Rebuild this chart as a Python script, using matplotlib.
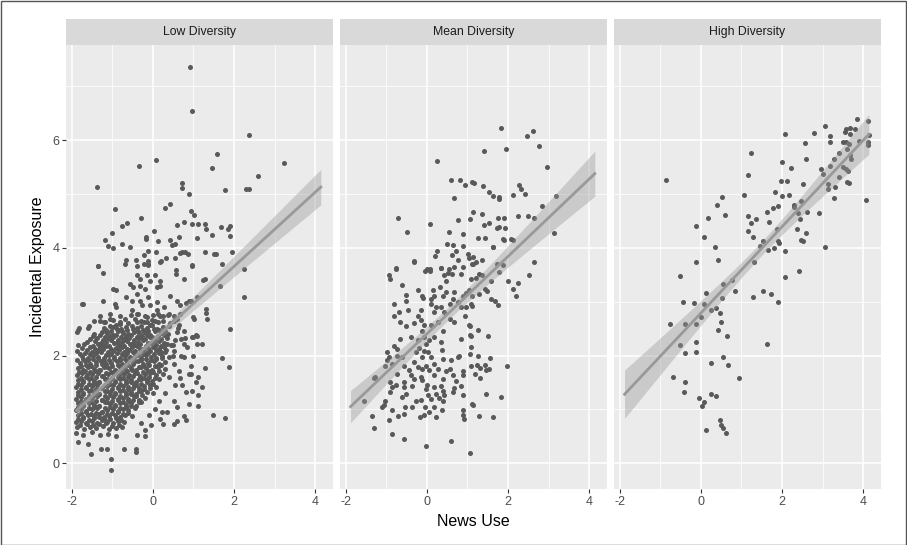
import numpy as np
import matplotlib
matplotlib.use("Agg")
import matplotlib.pyplot as plt
from matplotlib.patches import Rectangle

plt.rcParams['font.family'] = ['Liberation Sans', 'DejaVu Sans']
plt.rcParams['axes.unicode_minus'] = False

panel_titles = ["Low Diversity", "Mean Diversity", "High Diversity"]
x_ticks = [-2, 0, 2, 4]
y_ticks = [0, 2, 4, 6]

# fitted lines and confidence bands
fit_x_range = [-1.88, 4.14]
fit_y_at_min = [0.98, 1.05, 1.28]
fit_y_at_max = [5.13, 5.38, 6.11]
band_half_at_min = [0.11, 0.30, 0.45]
band_half_at_max = [0.33, 0.42, 0.37]
band_half_narrowest = [0.07, 0.12, 0.13]

# ---------------- Low Diversity ----------------
low_x = [
    # upper / right outliers
    0.91, 0.96, 0.07, -0.34, -1.37, 0.73, 0.73, 0.90, 0.31, 0.43, -0.93, -0.29, 0.95, 1.02, -0.64, -0.75, 0.60, 0.78, 0.97, 1.12,
    -1.0, 0.02, -0.17, -0.16, 0.64, 1.08, -1.17, -0.76, -1.11, -0.99, -0.57, 0.13, 0.43, 0.46, 0.55, -0.11, 0.07, 0.66, 0.73, 0.80,
    0.86, 0.55, 0.32, -0.21, -0.13, -0.11, -0.42, -0.67, 0.20, 0.97, -1.34,
    2.36, 1.59, 3.24, 1.47, 2.58, 1.79, 2.29, 2.37, 1.28, 1.30, 1.46, 1.67, 1.85, 1.90, 1.89, 1.28, 1.51, 1.56, 1.94, 1.71, 2.24,
    1.24, 1.29, 1.66, 2.24, 0.95, 1.30, 1.30, 1.34, 0.99, 1.89, 0.99, 1.06, 1.10, 1.22, 0.99, 1.71, 1.88, 1.29, 0.95, 0.95, 1.12,
    1.06, 1.20, 1.12, 1.12, 1.49, 1.79,
    -1.34, -1.23, -0.69, -0.40, -0.23, -0.11, 0.18, 0.56, 0.56, 0.78, 0.97, -0.40, -0.32, -0.15, -0.07, 0.06, 0.18, -0.56, -0.48,
    -0.32, -0.19, 0.10, 0.18, -0.98, -0.90, 0.43, 0.60, 0.68, 0.81, 0.89, 1.10, -1.75, -1.23, -0.94, -0.91, -0.65, -0.52, -0.40,
    -0.32, -0.11, -0.27, -0.07, 0.10, 0.10, 0.27, 0.39, 0.18, -1.31, -1.19, -1.06, -0.98, -0.81, -0.69, -0.52, -0.40, -0.40, -0.19,
    -0.23, -0.07, 0.06, 0.51, 0.64, 0.76, 1.01, 0.97, 1.10, -1.85, -1.85, -1.59, -1.72,
    # dense core, read row by row
    -1.30, -1.06, -0.81, -0.55, -0.36, -0.15, 0.00, 0.12, 0.25, 0.38, 0.51, 0.68,
    -1.45, -1.20, -0.98, -0.80, -0.62, -0.45, -0.30, -0.15, -0.02, 0.12, 0.26, 0.42, 0.60,
    -1.83, -1.58, -1.20, -1.05, -0.92, -0.78, -0.65, -0.52, -0.40, -0.28, -0.15, -0.02, 0.10, 0.24, 0.40, 0.62,
    -1.86, -1.45, -1.25, -1.12, -0.99, -0.86, -0.73, -0.60, -0.47, -0.34, -0.21, -0.08, 0.05, 0.20, 0.38, 0.60,
    -1.55, -1.38, -1.24, -1.11, -0.98, -0.85, -0.72, -0.59, -0.46, -0.33, -0.20, -0.07, 0.06, 0.20, 0.36, 0.55, 0.80,
    -1.70, -1.48, -1.35, -1.22, -1.09, -0.96, -0.83, -0.70, -0.57, -0.44, -0.31, -0.18, -0.05, 0.08, 0.21, 0.34, 0.50, 0.78,
    -1.88, -1.62, -1.49, -1.36, -1.23, -1.10, -0.97, -0.84, -0.71, -0.58, -0.45, -0.32, -0.19, -0.06, 0.07, 0.20, 0.33, 0.52,
    -1.74, -1.60, -1.47, -1.34, -1.21, -1.08, -0.95, -0.82, -0.69, -0.56, -0.43, -0.30, -0.17, -0.04, 0.09, 0.22, 0.40, 0.70,
    -1.80, -1.67, -1.54, -1.41, -1.28, -1.15, -1.02, -0.89, -0.76, -0.63, -0.50, -0.37, -0.24, -0.11, 0.02, 0.15, 0.30,
    -1.85, -1.72, -1.59, -1.46, -1.33, -1.20, -1.07, -0.94, -0.81, -0.68, -0.55, -0.42, -0.29, -0.16, -0.03, 0.12, 0.30,
    -1.88, -1.75, -1.62, -1.49, -1.36, -1.23, -1.10, -0.97, -0.84, -0.71, -0.58, -0.45, -0.32, -0.19, -0.06, 0.08, 0.25,
    -1.84, -1.71, -1.58, -1.45, -1.32, -1.19, -1.06, -0.93, -0.80, -0.67, -0.54, -0.41, -0.28, -0.15, -0.02, 0.15,
    -1.90, -1.77, -1.64, -1.51, -1.38, -1.25, -1.12, -0.99, -0.86, -0.73, -0.60, -0.47, -0.34, -0.21, -0.08, 0.08,
    -1.84, -1.71, -1.58, -1.45, -1.32, -1.19, -1.06, -0.93, -0.80, -0.67, -0.54, -0.41, -0.28, -0.15, 0.00,
    -1.90, -1.77, -1.64, -1.51, -1.38, -1.25, -1.12, -0.99, -0.86, -0.73, -0.60, -0.47, -0.34, -0.20,
    -1.84, -1.71, -1.58, -1.45, -1.32, -1.19, -1.06, -0.93, -0.80, -0.67, -0.54, -0.41, -0.28,
    -1.90, -1.77, -1.64, -1.51, -1.38, -1.25, -1.12, -0.99, -0.86, -0.73, -0.60, -0.45,
    -1.85, -1.72, -1.59, -1.46, -1.33, -1.20, -1.07, -0.94, -0.81, -0.68, -0.52,
    -1.90, -1.77, -1.64, -1.51, -1.38, -1.25, -1.12, -0.99, -0.86, -0.70,
    -1.86, -1.70, -1.55, -1.40, -1.24, -1.08, -0.92, -0.75,
    -1.90, -1.72, -1.50, -1.30, -1.10, -0.90,
    # low outliers
    -1.84, -1.53, -1.28, -1.13, -1.04, -1.04, -0.71, -0.42, -0.42, -0.38, -0.19, -1.60,
    # scattered right flank of the core
    0.51, 0.64, 0.76, 0.89, 0.97, 0.81, 0.51, 0.60, 0.35, 0.18, 0.51, 0.60, 0.24, 0.81, 0.76, 0.72, 0.85, 0.70, 0.45, 0.90, 0.55, 0.68,
    -0.30, -0.10, 0.05, -0.20, 0.15, 0.30, 0.40, 0.50, -0.05, 0.22,
]
low_y = [
    7.37, 6.55, 5.64, 5.53, 5.13, 5.21, 5.11, 5.00, 4.74, 4.81, 4.72, 4.56, 4.69, 4.62, 4.46, 4.40, 4.43, 4.48, 4.45, 4.45,
    4.27, 4.32, 4.20, 4.16, 4.21, 4.19, 4.14, 4.08, 4.04, 3.99, 4.01, 4.12, 4.15, 4.05, 4.07, 3.94, 3.93, 3.91, 3.92, 3.92,
    3.89, 3.81, 3.82, 3.86, 3.76, 3.71, 3.77, 3.77, 3.75, 3.68, 3.67,
    6.09, 5.75, 5.58, 5.49, 5.34, 5.07, 5.09, 5.09, 4.45, 4.35, 4.24, 4.39, 4.35, 4.40, 4.22, 3.93, 3.88, 3.89, 3.92, 3.70, 3.60,
    3.41, 3.42, 3.29, 3.08, 3.02, 2.87, 2.79, 2.68, 2.71, 2.50, 2.35, 2.39, 2.22, 2.21, 2.00, 1.96, 1.78, 1.77, 1.80, 1.65, 1.60,
    1.51, 1.42, 1.26, 1.06, 0.89, 0.84,
    3.66, 3.53, 3.71, 3.67, 3.71, 3.69, 3.73, 3.58, 3.52, 3.42, 3.67, 3.49, 3.42, 3.49, 3.39, 3.49, 3.39, 3.33, 3.27,
    3.30, 3.24, 3.27, 3.30, 3.24, 3.22, 3.11, 3.02, 2.93, 2.97, 3.01, 3.08, 2.96, 3.01, 2.96, 2.90, 3.08, 3.02, 3.15,
    3.02, 3.08, 2.93, 2.93, 2.99, 2.84, 2.90, 2.77, 2.74, 2.65, 2.62, 2.68, 2.53, 2.59, 2.68, 2.84, 2.77, 2.62, 2.74,
    2.62, 2.56, 2.65, 2.65, 2.56, 2.46, 2.68, 2.34, 2.37, 2.47, 2.19, 2.52, 2.96,
    2.74, 2.77, 2.73, 2.76, 2.78, 2.72, 2.75, 2.77, 2.73, 2.76, 2.74, 2.78,
    2.65, 2.62, 2.66, 2.63, 2.61, 2.67, 2.64, 2.62, 2.66, 2.63, 2.65, 2.61, 2.67,
    2.52, 2.55, 2.51, 2.54, 2.56, 2.50, 2.53, 2.55, 2.51, 2.54, 2.52, 2.56, 2.50, 2.53, 2.55, 2.51,
    2.43, 2.40, 2.44, 2.41, 2.39, 2.45, 2.42, 2.40, 2.44, 2.41, 2.43, 2.39, 2.45, 2.42, 2.40, 2.44,
    2.30, 2.33, 2.29, 2.32, 2.34, 2.28, 2.31, 2.33, 2.29, 2.32, 2.30, 2.34, 2.28, 2.31, 2.33, 2.29, 2.32,
    2.21, 2.18, 2.22, 2.19, 2.17, 2.23, 2.20, 2.18, 2.22, 2.19, 2.21, 2.17, 2.23, 2.20, 2.18, 2.22, 2.19, 2.21,
    2.08, 2.11, 2.07, 2.10, 2.12, 2.06, 2.09, 2.11, 2.07, 2.10, 2.08, 2.12, 2.06, 2.09, 2.11, 2.07, 2.10, 2.08,
    1.99, 1.96, 2.00, 1.97, 1.95, 2.01, 1.98, 1.96, 2.00, 1.97, 1.99, 1.95, 2.01, 1.98, 1.96, 2.00, 1.97, 1.99,
    1.86, 1.89, 1.85, 1.88, 1.90, 1.84, 1.87, 1.89, 1.85, 1.88, 1.86, 1.90, 1.84, 1.87, 1.89, 1.85, 1.88,
    1.77, 1.74, 1.78, 1.75, 1.73, 1.79, 1.76, 1.74, 1.78, 1.75, 1.77, 1.73, 1.79, 1.76, 1.74, 1.78, 1.75,
    1.64, 1.67, 1.63, 1.66, 1.68, 1.62, 1.65, 1.67, 1.63, 1.66, 1.64, 1.68, 1.62, 1.65, 1.67, 1.63, 1.66,
    1.55, 1.52, 1.56, 1.53, 1.51, 1.57, 1.54, 1.52, 1.56, 1.53, 1.55, 1.51, 1.57, 1.54, 1.52, 1.56,
    1.42, 1.45, 1.41, 1.44, 1.46, 1.40, 1.43, 1.45, 1.41, 1.44, 1.42, 1.46, 1.40, 1.43, 1.45, 1.41,
    1.33, 1.30, 1.34, 1.31, 1.29, 1.35, 1.32, 1.30, 1.34, 1.31, 1.33, 1.29, 1.35, 1.32, 1.30,
    1.20, 1.23, 1.19, 1.22, 1.24, 1.18, 1.21, 1.23, 1.19, 1.22, 1.20, 1.24, 1.18, 1.21,
    1.11, 1.08, 1.12, 1.09, 1.07, 1.13, 1.10, 1.08, 1.12, 1.09, 1.11, 1.07, 1.13,
    0.98, 1.01, 0.97, 1.00, 1.02, 0.96, 0.99, 1.01, 0.97, 1.00, 0.98, 1.02,
    0.89, 0.86, 0.90, 0.87, 0.91, 0.85, 0.88, 0.90, 0.86, 0.89, 0.87,
    0.76, 0.79, 0.75, 0.78, 0.74, 0.80, 0.77, 0.75, 0.79, 0.76,
    0.67, 0.64, 0.68, 0.65, 0.69, 0.63, 0.66, 0.68,
    0.56, 0.52, 0.57, 0.53, 0.55, 0.51,
    0.40, 0.17, 0.27, 0.27, 0.07, -0.12, 0.27, 0.27, 0.20, 0.53, 0.51, 0.35,
    1.85, 1.72, 1.97, 1.66, 1.35, 1.32, 1.16, 1.04, 0.95, 0.82, 0.73, 0.79, 0.73, 0.81, 0.87, 1.45, 2.15, 2.30, 2.20, 1.10, 1.45, 1.58,
    0.75, 0.90, 1.00, 0.62, 1.15, 1.30, 1.60, 2.00, 0.70, 0.95,
]
# second pass over the dense core (points lying between the rows above)
low_core2_x = [
    -1.15, -1.02, -0.89, -0.76, -0.63, -0.50, -0.37, -0.24, -0.11, 0.02, 0.15, 0.30,
    -1.48, -1.31, -1.18, -1.05, -0.92, -0.79, -0.66, -0.53, -0.40, -0.27, -0.14, -0.01, 0.13, 0.28,
    -1.62, -1.42, -1.28, -1.15, -1.02, -0.89, -0.76, -0.63, -0.50, -0.37, -0.24, -0.11, 0.02, 0.15, 0.28,
    -1.75, -1.55, -1.42, -1.29, -1.16, -1.03, -0.90, -0.77, -0.64, -0.51, -0.38, -0.25, -0.12, 0.01, 0.14, 0.27,
    -1.80, -1.67, -1.54, -1.41, -1.28, -1.15, -1.02, -0.89, -0.76, -0.63, -0.50, -0.37, -0.24, -0.11, 0.02, 0.15, 0.30,
    -1.86, -1.73, -1.60, -1.47, -1.34, -1.21, -1.08, -0.95, -0.82, -0.69, -0.56, -0.43, -0.30, -0.17, -0.04, 0.09, 0.22,
    -1.78, -1.65, -1.52, -1.39, -1.26, -1.13, -1.00, -0.87, -0.74, -0.61, -0.48, -0.35, -0.22, -0.09, 0.05, 0.20,
    -1.82, -1.68, -1.55, -1.42, -1.29, -1.16, -1.03, -0.90, -0.77, -0.64, -0.51, -0.38, -0.25, -0.12, 0.01, 0.16,
    -1.78, -1.65, -1.52, -1.39, -1.26, -1.13, -1.00, -0.87, -0.74, -0.61, -0.48, -0.35, -0.22, -0.09, 0.06,
    -1.84, -1.71, -1.58, -1.45, -1.32, -1.19, -1.06, -0.93, -0.80, -0.67, -0.54, -0.41, -0.28, -0.15, 0.00,
    -1.78, -1.65, -1.52, -1.39, -1.26, -1.13, -1.00, -0.87, -0.74, -0.61, -0.48, -0.35, -0.22, -0.08,
    -1.84, -1.71, -1.58, -1.45, -1.32, -1.19, -1.06, -0.93, -0.80, -0.67, -0.54, -0.41, -0.27,
    -1.78, -1.65, -1.52, -1.39, -1.26, -1.13, -1.00, -0.87, -0.74, -0.61, -0.48, -0.35,
    -1.84, -1.71, -1.58, -1.45, -1.32, -1.19, -1.06, -0.93, -0.80, -0.67, -0.53,
    -1.78, -1.65, -1.52, -1.39, -1.26, -1.13, -1.00, -0.87, -0.74, -0.60,
    -1.84, -1.71, -1.58, -1.45, -1.32, -1.19, -1.06, -0.92, -0.78,
    -1.80, -1.62, -1.47, -1.32, -1.16, -1.00, -0.84,
]
low_core2_y = [
    2.48, 2.46, 2.49, 2.45, 2.47, 2.50, 2.46, 2.48, 2.45, 2.49, 2.47, 2.46,
    2.36, 2.38, 2.35, 2.37, 2.39, 2.34, 2.36, 2.38, 2.35, 2.37, 2.39, 2.34, 2.36, 2.38,
    2.25, 2.27, 2.24, 2.26, 2.28, 2.23, 2.25, 2.27, 2.24, 2.26, 2.28, 2.23, 2.25, 2.27, 2.24,
    2.14, 2.16, 2.13, 2.15, 2.17, 2.12, 2.14, 2.16, 2.13, 2.15, 2.17, 2.12, 2.14, 2.16, 2.13, 2.15,
    2.03, 2.05, 2.02, 2.04, 2.06, 2.01, 2.03, 2.05, 2.02, 2.04, 2.06, 2.01, 2.03, 2.05, 2.02, 2.04, 2.06,
    1.92, 1.94, 1.91, 1.93, 1.95, 1.90, 1.92, 1.94, 1.91, 1.93, 1.95, 1.90, 1.92, 1.94, 1.91, 1.93, 1.95,
    1.81, 1.83, 1.80, 1.82, 1.84, 1.79, 1.81, 1.83, 1.80, 1.82, 1.84, 1.79, 1.81, 1.83, 1.80, 1.82,
    1.70, 1.72, 1.69, 1.71, 1.73, 1.68, 1.70, 1.72, 1.69, 1.71, 1.73, 1.68, 1.70, 1.72, 1.69, 1.71,
    1.59, 1.61, 1.58, 1.60, 1.62, 1.57, 1.59, 1.61, 1.58, 1.60, 1.62, 1.57, 1.59, 1.61, 1.58,
    1.48, 1.50, 1.47, 1.49, 1.51, 1.46, 1.48, 1.50, 1.47, 1.49, 1.51, 1.46, 1.48, 1.50, 1.47,
    1.37, 1.39, 1.36, 1.38, 1.40, 1.35, 1.37, 1.39, 1.36, 1.38, 1.40, 1.35, 1.37, 1.39,
    1.26, 1.28, 1.25, 1.27, 1.29, 1.24, 1.26, 1.28, 1.25, 1.27, 1.29, 1.24, 1.26,
    1.15, 1.17, 1.14, 1.16, 1.18, 1.13, 1.15, 1.17, 1.14, 1.16, 1.18, 1.13,
    1.04, 1.06, 1.03, 1.05, 1.07, 1.02, 1.04, 1.06, 1.03, 1.05, 1.07,
    0.93, 0.95, 0.92, 0.94, 0.96, 0.91, 0.93, 0.95, 0.92, 0.94,
    0.82, 0.84, 0.81, 0.83, 0.85, 0.80, 0.82, 0.84, 0.81,
    0.71, 0.73, 0.70, 0.72, 0.74, 0.69, 0.71,
]

# ---------------- Mean Diversity ----------------
mean_x = [
    0.25, 0.60, 0.82, 0.95, 1.12, 0.66, -0.70, -0.50, 0.07, 0.76, 1.07, 1.14, 0.55, 0.90, 0.49, 0.64, 0.90, 0.25, 0.19, 0.72,
    0.63, 0.78, 1.01, 1.05, 1.14, -0.32, -0.76, 0.35, 0.55, 0.89, 0.00, 0.07, 1.14,
    -0.32, -0.75, -0.94, -0.91, -0.05, 0.08, 0.35, 0.43, 0.51, 0.62, 0.85, 0.47, 0.68, 1.10, -0.61, -0.23, 0.14, 0.33, -0.52, -0.52,
    -0.11, -0.09, 0.10, 0.18, 0.39, 0.47, 0.68, 0.89, 0.97, 1.05, -0.81, -0.69, -0.81, -0.46, -0.15, -0.23, 0.10, 0.22, 0.18, 0.35,
    0.43, 0.56, 0.64, 0.76, 0.83, 0.97, 1.10, -0.65, -0.52, -0.32, -0.15, -0.08, -0.11, 0.10, 0.27, 0.39, 0.56, 0.68, 0.93, 1.05,
    1.10, -0.65, -0.40, -0.23, -0.07, 0.06, -0.02, 0.18, 0.35, 0.85, -0.81, -0.98, -0.94, -0.73, -0.73, -0.61, -0.27, -0.19, -0.08,
    0.02, -0.12, 0.10, 0.37, 0.39, 0.60, 0.76, 0.80, 1.08, -0.98, -1.02, -0.85, -0.56, -0.44, -0.32, -0.23, -0.11, -0.02, 0.06,
    0.18, 0.27, 0.47, 0.56, 0.89, 1.10, -1.27, -1.31, -0.73, -0.40, -0.32, -0.15, -0.11, 0.18, 0.39, 0.64, 0.89, -0.90, -0.85,
    -0.77, -0.56, -0.56, -0.36, 0.00, -0.02, 0.18, 0.35, 0.39, 0.72, 0.68, 0.85, -0.91, -0.52, -0.61, -0.27, -0.15, 0.02, 0.10,
    0.22, 0.31, 0.43, 0.41, 0.64, 0.89, -1.02, -1.06, -1.10, -0.85, -0.55, -0.36, -0.05, 0.18, 0.89, 0.89, 1.14, -1.35, -0.94,
    -0.71, -0.56, -0.17, -0.07, 0.06, 0.22, 0.37, 0.91, -1.31, -0.87, -0.56, -0.02, 0.60, -1.55,
    1.83, 2.62, 2.48, 2.77, 1.41, 1.94, 2.95, 1.16, 1.39, 2.28, 2.33, 2.41, 1.52, 1.62, 1.77, 1.78, 2.12, 3.18, 2.85, 1.36,
    1.76, 1.89, 2.24, 2.49, 2.63, 1.41, 1.53, 1.73, 1.78, 1.93, 1.26, 1.43, 1.88, 1.89, 2.07, 2.13, 3.13, 1.62, 1.64, 1.22,
    1.36, 1.11, 1.72, 1.88, 2.65, 1.77, 1.28, 1.36, 1.21, 1.57, 2.00, 2.51, 2.25, 2.12, 2.19, 1.44, 1.48, 1.28, 1.11, 1.58,
    1.69, 1.76, 1.11, 1.07, 1.26, 1.50, 1.07, 1.07, 1.26, 1.55, 1.23, 1.30, 1.43, 1.47, 1.54, 1.97, 1.19, 1.31, 1.47, 1.82,
    1.11, 1.28, 1.64, 1.07,
]
mean_y = [
    5.62, 5.26, 5.27, 5.16, 5.22, 4.93, 4.55, 4.29, 4.45, 4.52, 4.53, 4.67, 4.29, 4.26, 4.08, 4.06, 4.04, 3.94, 3.85, 3.94,
    3.86, 3.77, 3.88, 3.82, 3.83, 3.76, 3.62, 3.63, 3.60, 3.64, 3.60, 3.60, 3.70,
    3.73, 3.61, 3.49, 3.42, 3.57, 3.57, 3.63, 3.49, 3.53, 3.52, 3.52, 3.38, 3.65, 3.42, 3.31, 3.22, 3.22, 3.28, 3.13, 3.02,
    3.11, 3.07, 3.05, 3.10, 3.11, 3.18, 3.18, 3.10, 3.16, 3.22, 2.96, 2.80, 2.74, 2.85, 2.85, 2.74, 2.95, 2.90, 2.80, 2.90,
    2.80, 2.96, 3.05, 2.99, 2.90, 2.90, 2.96, 2.62, 2.54, 2.60, 2.66, 2.56, 2.45, 2.56, 2.62, 2.46, 2.68, 2.62, 2.74, 2.56,
    2.37, 2.31, 2.35, 2.28, 2.34, 2.28, 2.22, 2.34, 2.25, 2.30, 2.17, 2.06, 1.98, 2.12, 2.00, 1.97, 2.06, 2.14, 2.09,
    2.06, 1.97, 1.97, 2.11, 1.93, 1.91, 1.97, 2.00, 2.15, 1.91, 1.80, 1.85, 1.81, 1.73, 1.88, 1.78, 1.75, 1.80, 1.73,
    1.85, 1.75, 1.72, 1.75, 1.72, 1.80, 1.61, 1.59, 1.66, 1.63, 1.57, 1.61, 1.54, 1.63, 1.57, 1.63, 1.63, 1.50, 1.41,
    1.46, 1.50, 1.41, 1.44, 1.46, 1.38, 1.42, 1.44, 1.35, 1.52, 1.40, 1.44, 1.32, 1.28, 1.23, 1.16, 1.18, 1.26, 1.20,
    1.29, 1.21, 1.26, 1.16, 1.32, 1.26, 1.16, 1.09, 1.04, 0.98, 1.05, 1.05, 1.05, 1.04, 0.98, 0.89, 1.09, 0.87, 0.80,
    0.88, 0.92, 0.85, 0.90, 0.95, 0.85, 0.98, 0.82, 0.65, 0.54, 0.45, 0.31, 0.41, 1.15,
    6.22, 6.18, 6.07, 5.90, 5.80, 5.83, 5.50, 5.21, 5.15, 5.16, 5.09, 5.00, 5.04, 4.97, 4.95, 4.91, 4.98, 4.97, 4.78, 4.63,
    4.56, 4.56, 4.59, 4.59, 4.56, 4.43, 4.46, 4.37, 4.38, 4.37, 4.19, 4.19, 4.17, 4.14, 4.16, 4.14, 4.28, 4.02, 4.01, 3.73,
    3.77, 3.71, 3.70, 3.69, 3.73, 3.55, 3.52, 3.49, 3.44, 3.39, 3.39, 3.49, 3.34, 3.24, 3.10, 3.24, 3.20, 3.15, 3.11, 3.05,
    3.01, 2.93, 2.92, 2.55, 2.47, 2.36, 2.38, 2.02, 1.99, 1.96, 1.82, 1.76, 1.82, 1.73, 1.75, 1.80, 1.65, 1.59, 1.29, 1.23,
    1.10, 0.87, 0.85, 0.18,
]

# ---------------- High Diversity ----------------
high_x = [
    -0.87, 0.51, 1.07, 0.41, 0.60, 0.18, -0.11, 1.16, 1.16, 0.07, 0.35, 0.42, -0.11, -0.52, 0.55, 0.78, 0.84, 0.13, -0.43, -0.17,
    0.07, 0.51, 0.26, 0.37, 0.46, 0.01, -0.76, -0.40, -0.12, 0.49, 0.42, 0.64, -0.52, -0.11, -0.40, -0.12, 0.55, 0.66, 0.26, 0.95,
    -0.69, -0.40, -0.42, -0.04, 0.07, 0.02, 0.25, 0.38, 0.46, 0.49, 0.54, 0.61, 0.13,
    3.86, 4.13, 3.06, 2.79, 2.07, 3.19, 3.57, 3.67, 3.80, 3.55, 3.68, 4.14, 3.18, 3.51, 3.58, 3.64, 3.91, 4.13, 4.13, 2.57,
    1.23, 3.59, 3.41, 3.68, 3.71, 3.29, 2.59, 2.01, 3.18, 3.50, 3.57, 2.23, 2.96, 3.01, 3.63, 1.17, 3.41, 3.60, 3.66, 3.14,
    3.30, 3.14, 1.97, 2.12, 2.51, 1.84, 2.01, 2.18, 3.29, 4.07, 2.48, 2.30, 2.29, 1.90, 1.77, 2.62, 2.90, 1.62, 2.40, 2.45,
    1.24, 1.35, 1.68, 1.87, 1.29, 2.37, 2.60, 1.54, 1.89, 1.93, 2.47, 2.52, 1.65, 1.80, 2.07, 3.07, 1.47, 1.30, 2.41, 2.07,
    1.29, 1.54, 1.73, 1.89, 1.62,
]
high_y = [
    5.27, 4.95, 4.98, 4.80, 4.61, 4.56, 4.41, 4.59, 4.32, 4.20, 4.01, 3.78, 3.73, 3.47, 3.33, 3.40, 3.19, 3.17, 3.00, 2.97,
    2.95, 3.06, 2.84, 2.88, 2.79, 2.72, 2.59, 2.58, 2.59, 2.63, 2.48, 2.36, 2.20, 2.25, 2.04, 2.06, 1.98, 1.82, 1.86, 1.58,
    1.60, 1.50, 1.33, 1.22, 1.13, 1.06, 1.28, 1.25, 0.80, 0.71, 0.66, 0.56, 0.62,
    6.40, 6.35, 6.26, 6.14, 6.11, 6.08, 6.20, 6.22, 6.21, 6.16, 6.11, 6.09, 5.96, 5.97, 5.96, 5.93, 5.98, 5.96, 5.92, 5.95,
    5.76, 5.83, 5.76, 5.72, 5.65, 5.65, 5.66, 5.60, 5.52, 5.50, 5.46, 5.49, 5.46, 5.37, 5.43, 5.36, 5.31, 5.23, 5.20, 5.19,
    5.14, 5.10, 5.24, 5.24, 5.19, 5.03, 4.97, 4.98, 4.93, 4.89, 4.87, 4.80, 4.76, 4.78, 4.74, 4.67, 4.64, 4.66, 4.65, 4.54,
    4.46, 4.53, 4.49, 4.35, 4.21, 4.36, 4.28, 4.12, 4.13, 4.09, 4.14, 4.13, 3.96, 3.99, 3.95, 4.02, 4.04, 3.74, 3.57, 3.46,
    3.08, 3.20, 3.15, 3.00, 2.22,
]

panels_x = [low_x + low_core2_x, mean_x, high_x]
panels_y = [low_y + low_core2_y, mean_y, high_y]

# ---------------- layout ----------------
W, H = 907, 545
fig = plt.figure(figsize=(W / 100, H / 100), dpi=100)
fig.patch.set_facecolor("white")

panel_left_px = [66, 340, 614]
panel_w_px = 267
top_px, bottom_px = 45, 489
strip_top_px = 19

xlim = (-2.14, 4.44)
ylim = (-0.48, 7.77)


def band_half_width(xs, xl, xr, hl, hr, h0):
    dl = np.sqrt(max(hl ** 2 - h0 ** 2, 1e-9))
    dr = np.sqrt(max(hr ** 2 - h0 ** 2, 1e-9))
    xc = xl + (xr - xl) * dl / (dl + dr)
    k = (dl / (xc - xl)) ** 2
    return np.sqrt(h0 ** 2 + k * (xs - xc) ** 2)


xl, xr = fit_x_range
xs = np.linspace(xl, xr, 100)

for i, (px, py, title) in enumerate(zip(panels_x, panels_y, panel_titles)):
    left = panel_left_px[i] / W
    bottom = (H - bottom_px) / H
    ax = fig.add_axes([left, bottom, panel_w_px / W, (bottom_px - top_px) / H])
    ax.set_facecolor("#EBEBEB")
    for s in ax.spines.values():
        s.set_visible(False)
    ax.set_xlim(*xlim)
    ax.set_ylim(*ylim)
    ax.set_xticks(x_ticks)
    ax.set_xticks([-1, 1, 3], minor=True)
    ax.set_yticks(y_ticks)
    ax.set_yticks([1, 3, 5, 7], minor=True)
    ax.grid(True, which="major", color="white", linewidth=1.1)
    ax.grid(True, which="minor", color="white", linewidth=0.55)
    ax.set_axisbelow(True)
    ax.tick_params(which="major", length=2.8, width=0.8, color="#333333",
                   labelcolor="#4D4D4D", labelsize=9, pad=2)
    ax.tick_params(which="minor", length=0)
    if i > 0:
        ax.tick_params(axis="y", which="major", length=0, labelleft=False)

    ax.scatter(px, py, s=13, color="#595959", linewidths=0, zorder=3)

    slope = (fit_y_at_max[i] - fit_y_at_min[i]) / (xr - xl)
    yhat = fit_y_at_min[i] + slope * (xs - xl)
    hw = band_half_width(xs, xl, xr, band_half_at_min[i], band_half_at_max[i], band_half_narrowest[i])
    ax.fill_between(xs, yhat - hw, yhat + hw, color="#999999", alpha=0.4, linewidth=0, zorder=4)
    ax.plot(xs, yhat, color="#999999", linewidth=2.0, zorder=5)

    # strip
    sx = panel_left_px[i] / W
    sy = (H - top_px) / H
    sh = (top_px - strip_top_px) / H
    fig.patches.append(Rectangle((sx, sy), panel_w_px / W, sh, transform=fig.transFigure,
                                 facecolor="#D9D9D9", edgecolor="none"))
    fig.text(sx + panel_w_px / W / 2, sy + sh / 2, title, ha="center", va="center",
             fontsize=8.8, color="#1A1A1A")

fig.text((66 + 614 + panel_w_px) / 2 / W, 1 - 522 / H, "News Use", ha="center", va="center",
         fontsize=11.5, color="black")
fig.text(38 / W, 1 - 267 / H, "Incidental Exposure", ha="center", va="center",
         rotation=90, fontsize=11.5, color="black")

fig.patches.append(Rectangle((0.5 / W, 0.5 / H), (W - 1.5) / W, (H - 1.5) / H, transform=fig.transFigure,
                             facecolor="none", edgecolor="#555555", linewidth=1.0))

fig.savefig("out.png", dpi=100)
